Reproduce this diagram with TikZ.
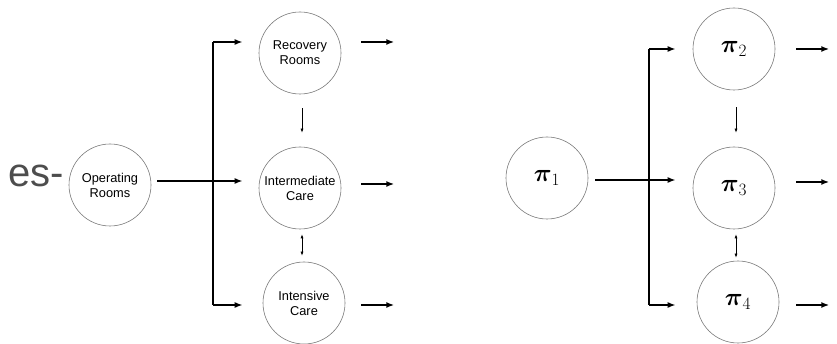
\documentclass[tikz,border=0pt]{standalone}
\usepackage{amsmath}
\usepackage{fontspec}
\setsansfont{Liberation Sans}
\usepackage{tikz}
\usetikzlibrary{arrows.meta,positioning,calc}
\definecolor{ringgray}{HTML}{7A7A7A}
\definecolor{prefixgray}{HTML}{4D4D4D}
\tikzset{
  unitnode/.style={circle,draw=ringgray,line width=0.6pt,minimum size=82pt,inner sep=0pt,align=center,font=\sffamily\fontsize{12.8}{15}\selectfont},
  stagenode/.style={circle,draw=ringgray,line width=0.6pt,minimum size=82pt,inner sep=0pt,font=\fontsize{23}{26}\selectfont},
  mainflow/.style={-{Latex[length=8pt,width=6pt]},line width=1.8pt,draw=black},
  mainbus/.style={line width=1.8pt,draw=black},
  sideflow/.style={-{Latex[length=4pt,width=3pt]},line width=0.6pt,draw=black},
  sideswap/.style={{Latex[length=4pt,width=3pt]}-{Latex[length=4pt,width=3pt]},line width=0.6pt,draw=black}
}

\begin{document}
\begin{tikzpicture}[x=1pt,y=-1pt]
  \useasboundingbox (0,0) rectangle (837,344);
  % left: named units
  \node[anchor=base west,text=prefixgray,font=\sffamily\fontsize{40}{44}\selectfont,inner sep=0pt] (prefix) at (8,187) {es-};
  \node[unitnode] (orooms) at (110,185) {Operating\\Rooms};
  \node[unitnode] (recovery) at (300,53) {Recovery\\Rooms};
  \node[unitnode] (intermediate) at (300,188) {Intermediate\\Care};
  \node[unitnode] (intensive) at (304,303) {Intensive\\Care};
  \coordinate (ltop) at (213,42);
  \coordinate (lmid) at (213,181);
  \coordinate (lbot) at (213,305);
  \draw[mainbus] (ltop) -- (lbot);
  \draw[mainflow,shorten <=6pt,shorten >=16pt] (orooms.east |- lmid) -- (intermediate.west |- lmid);
  \draw[mainflow,shorten >=16pt] (ltop) -- (recovery.west |- ltop);
  \draw[mainflow,shorten >=20pt] (lbot) -- (intensive.west |- lbot);
  \draw[sideflow] ([xshift=2pt,yshift=-14pt]recovery.south) -- ([xshift=2pt,yshift=14pt]intermediate.north);
  \draw[sideswap] ([xshift=2pt,yshift=-5pt]intermediate.south) -- ([xshift=2pt,yshift=6pt]intermediate.south |- intensive.north);
  \draw[mainflow] ([xshift=20pt]recovery.east |- ltop) -- ([xshift=53pt]recovery.east |- ltop);
  \draw[mainflow] ([xshift=20pt]intermediate.east |- 0,184) -- ([xshift=53pt]intermediate.east |- 0,184);
  \draw[mainflow] ([xshift=16pt]intensive.east |- lbot) -- ([xshift=49pt]intensive.east |- lbot);
  % right: stages
  \node[stagenode] (pione) at (547,178) {$\boldsymbol{\pi}_1$};
  \node[stagenode] (pitwo) at (734,49) {$\boldsymbol{\pi}_2$};
  \node[stagenode] (pithree) at (734,188) {$\boldsymbol{\pi}_3$};
  \node[stagenode] (pifour) at (738,302) {$\boldsymbol{\pi}_4$};
  \coordinate (rtop) at (649,49);
  \coordinate (rmid) at (649,180);
  \coordinate (rbot) at (649,305);
  \draw[mainbus] (rtop) -- (rbot);
  \draw[mainflow,shorten <=7pt,shorten >=17pt] (pione.east |- rmid) -- (pithree.west |- rmid);
  \draw[mainflow,shorten >=17pt] (rtop) -- (pitwo.west |- rtop);
  \draw[mainflow,shorten >=21pt] (rbot) -- (pifour.west |- rbot);
  \draw[sideflow] ([xshift=2pt,yshift=-17pt]pitwo.south) -- ([xshift=2pt,yshift=14pt]pithree.north);
  \draw[sideswap] ([xshift=2pt,yshift=-5pt]pithree.south) -- ([xshift=2pt,yshift=3pt]pithree.south |- pifour.north);
  \draw[mainflow] ([xshift=21pt]pitwo.east |- rtop) -- ([xshift=54pt]pitwo.east |- rtop);
  \draw[mainflow] ([xshift=21pt]pithree.east |- 0,182) -- ([xshift=54pt]pithree.east |- 0,182);
  \draw[mainflow] ([xshift=17pt]pifour.east |- rbot) -- ([xshift=50pt]pifour.east |- rbot);
\end{tikzpicture}
\end{document}
